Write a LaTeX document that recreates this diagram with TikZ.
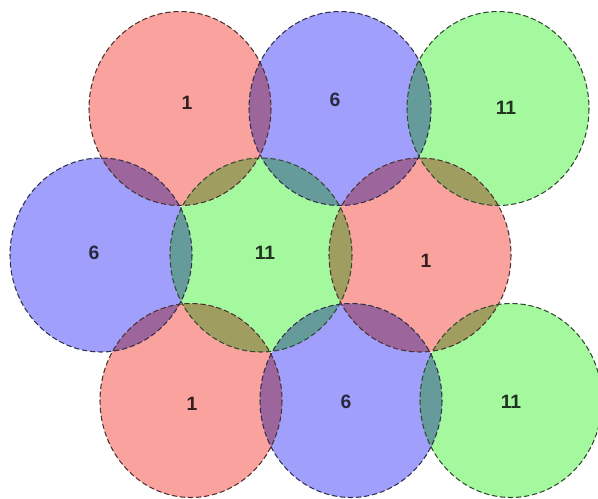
\documentclass[tikz,border=0pt]{standalone}
\usepackage{fontspec}
\setmainfont{Liberation Sans}
\usepackage{xcolor}
\usepackage{tikz}
\definecolor{chred}{RGB}{250,162,158}
\definecolor{chblue}{RGB}{160,160,252}
\definecolor{chgreen}{RGB}{164,248,158}

\begin{document}
\begin{tikzpicture}[
    x=0.02cm, y=-0.02cm,
    every node/.style={font=\fontsize{11}{13}\selectfont\bfseries},
    cellring/.style={dash pattern=on 3pt off 1.6pt, line width=0.6pt},
]
\useasboundingbox[fill=white] (0,0) rectangle (598,499);

% Cell centres (channel 1, 6, 11)
\foreach \name/\cx/\cy in {r1/180/108.5, b1/340/108.5, g1/498/108.5,
                           b2/101/255, g2/261/255, r2/420/255,
                           r3/191/400.5, b3/351/400.5, g3/511/400.5} {
    \coordinate (\name) at (\cx,\cy);
}

% Coverage areas, overlaps mix
\begin{scope}[blend group=multiply]
\foreach \name/\col in {r1/chred, b1/chblue, g1/chgreen,
                        b2/chblue, g2/chgreen, r2/chred,
                        r3/chred, b3/chblue, g3/chgreen} {
    \fill[\col] (\name) ellipse [x radius=91, y radius=97];
}
\end{scope}

% Dashed cell borders
\foreach \name/\col in {r1/chred, b1/chblue, g1/chgreen,
                        b2/chblue, g2/chgreen, r2/chred,
                        r3/chred, b3/chblue, g3/chgreen} {
    \draw[cellring, \col!30!black] (\name) ellipse [x radius=91, y radius=97];
}

% Channel numbers
\node[text=chred!20!black]   (r1-lab) at (187,103) {1};
\node[text=chblue!25!black]  (b1-lab) at (335,100) {6};
\node[text=chgreen!20!black] (g1-lab) at (506,108) {11};
\node[text=chblue!25!black]  (b2-lab) at (94,253)  {6};
\node[text=chgreen!20!black] (g2-lab) at (265,253) {11};
\node[text=chred!20!black]   (r2-lab) at (426,261) {1};
\node[text=chred!20!black]   (r3-lab) at (192,404) {1};
\node[text=chblue!25!black]  (b3-lab) at (346,402) {6};
\node[text=chgreen!20!black] (g3-lab) at (511,402) {11};
\end{tikzpicture}
\end{document}
